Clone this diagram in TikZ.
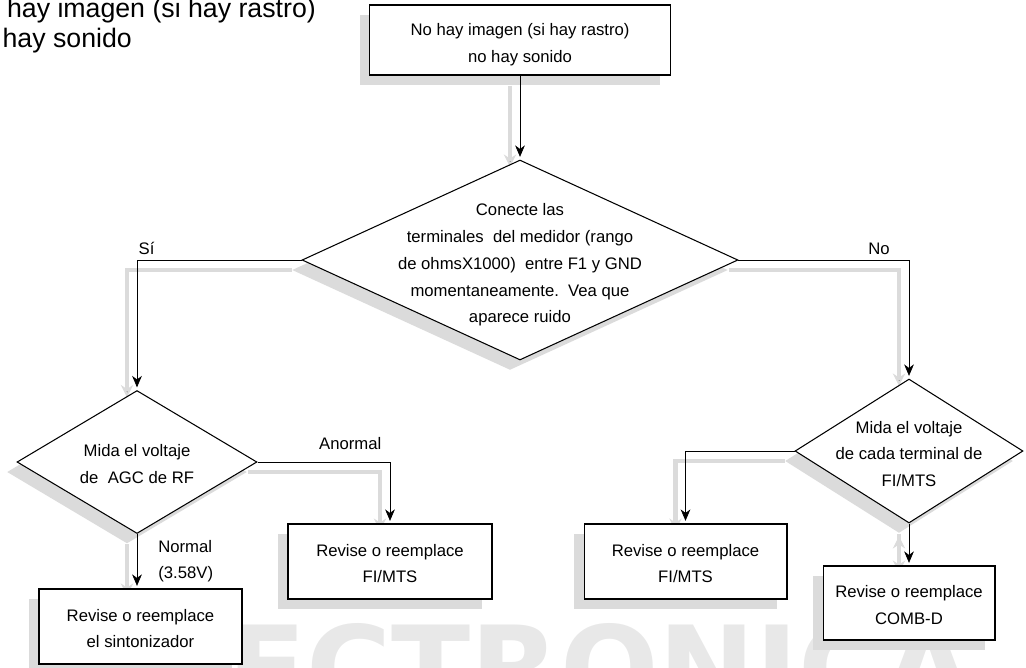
\documentclass[tikz,border=0pt]{standalone}
\usepackage{fontspec}
\setmainfont{Liberation Sans}
\newfontfamily\markfont{DejaVu Sans}
\usetikzlibrary{arrows.meta,shapes.geometric,shadows,backgrounds}
\definecolor{shadowgray}{gray}{0.86}
\definecolor{markgray}{gray}{0.91}
\newcommand{\flowfont}{\fontsize{9.5pt}{15.2pt}\selectfont}
\newcommand{\lift}[1]{\rule{0pt}{#1}}

\begin{document}
\begin{tikzpicture}[x=0.02cm,y=-0.02cm,>={Stealth[length=6.5pt,width=5.5pt,inset=2pt]},shorten >=1.5pt,line width=0.6pt,
  box/.style={rectangle,draw,fill=white,align=center,font=\flowfont,minimum height=1.5cm,
    drop shadow={shadow xshift=-0.2cm,shadow yshift=-0.2cm,fill=shadowgray,opacity=1}},
  decision/.style={diamond,draw,fill=white,inner sep=0pt,
    drop shadow={shadow xshift=-0.2cm,shadow yshift=-0.2cm,fill=shadowgray,opacity=1}},
  txt/.style={align=center,font=\flowfont,inner sep=0pt},
  lbl/.style={font=\flowfont,inner sep=3pt},
  elbow/.style={to path={-| (\tikztotarget) \tikztonodes}},
  shd/.style={xshift=-0.2cm,yshift=-0.2cm},
  shadowline/.style={draw=shadowgray,line width=2.8pt,-{Stealth[length=7pt,width=7pt]}}]
  \useasboundingbox (0,0) rectangle (1026,667);
  \clip (0,0) rectangle (1026,667);

  \node[anchor=north west,inner sep=0pt,align=left,font=\fontsize{15.2pt}{17pt}\selectfont] (title) at (-35,-2.5) {No hay imagen (si hay rastro)\\no hay sonido};

  \node[box,minimum width=6.02cm,minimum height=1.4cm] (top) at (520,40) {\lift{12.6pt}No hay imagen (si hay rastro)\\no hay sonido};
  \node[decision,minimum width=8.72cm,minimum height=4cm] (test) at (520,260) {};
  \node[txt] (testtxt) at (520,265) {Conecte las\\terminales\ \ del medidor (rango\\de ohmsX1000)\ \ entre F1 y GND\\momentaneamente.\ \ Vea que\\aparece ruido};
  \node[decision,minimum width=4.8cm,minimum height=2.86cm] (agc) at (137,462) {};
  \node[txt] (agctxt) at (137,464) {Mida el voltaje\\de\ \ AGC de RF};
  \node[decision,minimum width=4.56cm,minimum height=2.88cm] (mts) at (909,451) {};
  \node[txt] (mtstxt) at (909,454) {Mida el voltaje\\de cada terminal de\\FI/MTS};
  \node[box,minimum width=4.08cm] (fimtsa) at (390,561.5) {\lift{9.2pt}Revise o reemplace\\FI/MTS};
  \node[box,minimum width=4.06cm] (sint) at (140.5,626.5) {\lift{9.2pt}Revise o reemplace\\el sintonizador};
  \node[box,minimum width=4.06cm] (fimtsb) at (685.5,561.5) {\lift{9.2pt}Revise o reemplace\\FI/MTS};
  \node[box,minimum width=3.44cm,minimum height=1.48cm] (comb) at (909,603) {\lift{9.2pt}Revise o reemplace\\COMB-D};
  \coordinate (sintin) at (agc.south |- sint.north);

  \begin{pgfonlayer}{background}
    \clip (0,0) rectangle (1026,667);
    \node[anchor=base west,inner sep=0pt,text=markgray,font=\markfont\bfseries\fontsize{66pt}{66pt}\selectfont] (mark) at (74,709) {ELECTRONICA};
    \path[shadowline]
      ([shd]top.south) edge ([shd]test.north)
      ([shd]test.west) edge[elbow] ([shd]agc.north)
      ([shd]test.east) edge[elbow] ([shd]mts.north)
      ([shd]agc.east) edge[elbow] ([shd]fimtsa.north)
      ([shd]agc.south) edge ([shd]sintin)
      ([shd]mts.west) edge[elbow] ([shd]fimtsb.north)
      ([shd]mts.south) edge ([shd]comb.north);
  \end{pgfonlayer}

  \path[->]
    (top) edge (test)
    (test.west) edge[elbow] node[lbl,pos=0.471,anchor=south] {Sí} (agc.north)
    (test.east) edge[elbow] node[lbl,pos=0.412,anchor=south] {No} (mts.north)
    (agc.east) edge[elbow] node[lbl,pos=0.35,anchor=south,yshift=0.13cm] {Anormal} (fimtsa.north)
    (agc.south) edge node[lbl,anchor=west,inner sep=0pt,xshift=0.42cm,align=left] {Normal\\(3.58V)} (sintin)
    (mts.west) edge[elbow] (fimtsb.north)
    (mts) edge (comb);
\end{tikzpicture}
\end{document}
